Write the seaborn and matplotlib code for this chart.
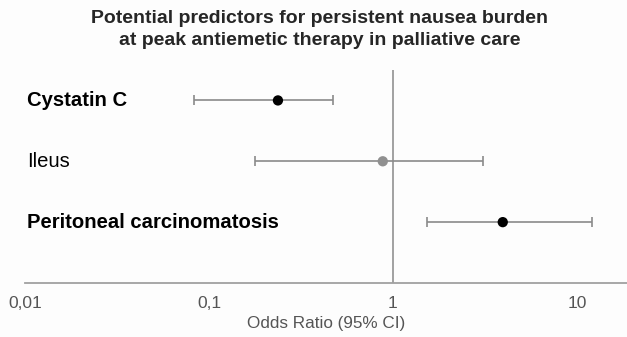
import matplotlib
matplotlib.use("Agg")
import matplotlib.pyplot as plt
import matplotlib.transforms as mtransforms
import seaborn as sns
import pandas as pd

# data
predictores = ['Cystatin C', 'Ileus', 'Peritoneal carcinomatosis']
odds_ratio = [0.237, 0.88, 3.95]
ci_inferior = [0.083, 0.177, 1.53]
ci_superior = [0.472, 3.09, 12.1]
significativo = [True, False, True]
ticks_x = [0.01, 0.1, 1, 10]
etiquetas_x = ['0,01', '0,1', '1', '10']

df = pd.DataFrame({
    'Predictor': predictores,
    'OR': odds_ratio,
    'Inf': ci_inferior,
    'Sup': ci_superior,
    'Sig': significativo,
})
df['pos'] = range(len(df))

sns.set_style("white")
plt.rcParams['font.family'] = ['Liberation Sans', 'DejaVu Sans']

fig = plt.figure(figsize=(6.27, 3.37), dpi=100)
fig.patch.set_facecolor('#fdfdfd')
ax = fig.add_axes([25 / 627, 1 - 283 / 337, 602 / 627, 213 / 337])
ax.set_facecolor('#fdfdfd')

# intervalos de confianza
ax.errorbar(df['OR'], df['pos'],
            xerr=[df['OR'] - df['Inf'], df['Sup'] - df['OR']],
            fmt='none', ecolor='#8a8a8a', elinewidth=1.2, capsize=3.5,
            capthick=1.2, zorder=2)

# puntos
sns.scatterplot(data=df, x='OR', y='pos', hue='Sig',
                palette={True: 'black', False: '#909090'},
                s=55, edgecolor='none', legend=False, ax=ax, zorder=3)

ax.axvline(1, color='#9a9a9a', lw=1.3, zorder=1)

ax.set_xscale('log')
ax.set_xlim(0.01, 18.7)
ax.set_ylim(3, -0.5)
ax.set_xticks(ticks_x)
ax.set_xticklabels(etiquetas_x, fontsize=12.5, color='#555555')
ax.minorticks_off()
ax.tick_params(axis='x', length=0, pad=9)
ax.set_yticks([])
ax.set_ylabel('')
ax.set_xlabel('Odds Ratio (95% CI)', fontsize=12.3, color='#555555', labelpad=4)

for lado in ['top', 'right', 'left']:
    ax.spines[lado].set_visible(False)
ax.spines['bottom'].set_color('#a0a0a0')
ax.spines['bottom'].set_linewidth(1.3)

# etiquetas de los predictores
trans = mtransforms.blended_transform_factory(fig.transFigure, ax.transData)
for _, fila in df.iterrows():
    ax.text(27 / 627, fila['pos'], fila['Predictor'], transform=trans,
            ha='left', va='center', fontsize=14.6,
            fontweight='bold' if fila['Sig'] else 'normal', color='black')

fig.suptitle('Potential predictors for persistent nausea burden\n'
             'at peak antiemetic therapy in palliative care',
             x=0.51, y=1 - 10 / 337, va='top', fontsize=14,
             fontweight='bold', linespacing=1.4)

fig.savefig('out.png', dpi=100, facecolor=fig.get_facecolor())
